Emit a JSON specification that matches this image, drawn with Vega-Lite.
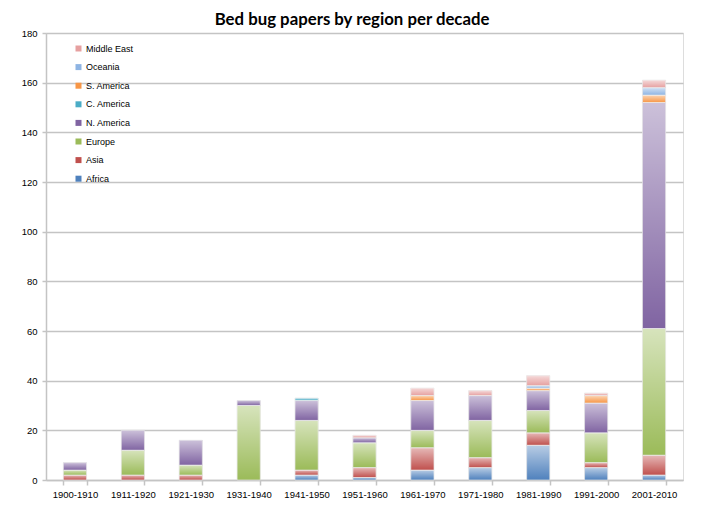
{
  "$schema": "https://vega.github.io/schema/vega-lite/v6.json",
  "width": 637,
  "height": 447,
  "autosize": {"type": "none"},
  "padding": {"left": 46, "top": 33, "right": 19, "bottom": 29},
  "background": "white",
  "title": {"text": "Bed bug papers by region per decade", "font": "Lato", "fontSize": 16.8, "fontWeight": "bold", "color": "black", "anchor": "middle", "frame": "bounds", "offset": -1},
  "datasets": {
    "regions": [
      {"region": "Africa", "rank": 1},
      {"region": "Asia", "rank": 2},
      {"region": "Europe", "rank": 3},
      {"region": "N. America", "rank": 4},
      {"region": "C. America", "rank": 5},
      {"region": "S. America", "rank": 6},
      {"region": "Oceania", "rank": 7},
      {"region": "Middle East", "rank": 8}
    ],
    "papers": [
      {"decade": "1900-1910", "region": "Asia", "papers": 2},
      {"decade": "1900-1910", "region": "Europe", "papers": 2},
      {"decade": "1900-1910", "region": "N. America", "papers": 3},
      {"decade": "1911-1920", "region": "Asia", "papers": 2},
      {"decade": "1911-1920", "region": "Europe", "papers": 10},
      {"decade": "1911-1920", "region": "N. America", "papers": 8},
      {"decade": "1921-1930", "region": "Asia", "papers": 2},
      {"decade": "1921-1930", "region": "Europe", "papers": 4},
      {"decade": "1921-1930", "region": "N. America", "papers": 10},
      {"decade": "1931-1940", "region": "Europe", "papers": 30},
      {"decade": "1931-1940", "region": "N. America", "papers": 2},
      {"decade": "1941-1950", "region": "Africa", "papers": 2},
      {"decade": "1941-1950", "region": "Asia", "papers": 2},
      {"decade": "1941-1950", "region": "Europe", "papers": 20},
      {"decade": "1941-1950", "region": "N. America", "papers": 8},
      {"decade": "1941-1950", "region": "C. America", "papers": 1},
      {"decade": "1951-1960", "region": "Africa", "papers": 1},
      {"decade": "1951-1960", "region": "Asia", "papers": 4},
      {"decade": "1951-1960", "region": "Europe", "papers": 10},
      {"decade": "1951-1960", "region": "N. America", "papers": 2},
      {"decade": "1951-1960", "region": "Middle East", "papers": 1},
      {"decade": "1961-1970", "region": "Africa", "papers": 4},
      {"decade": "1961-1970", "region": "Asia", "papers": 9},
      {"decade": "1961-1970", "region": "Europe", "papers": 7},
      {"decade": "1961-1970", "region": "N. America", "papers": 12},
      {"decade": "1961-1970", "region": "S. America", "papers": 2},
      {"decade": "1961-1970", "region": "Middle East", "papers": 3},
      {"decade": "1971-1980", "region": "Africa", "papers": 5},
      {"decade": "1971-1980", "region": "Asia", "papers": 4},
      {"decade": "1971-1980", "region": "Europe", "papers": 15},
      {"decade": "1971-1980", "region": "N. America", "papers": 10},
      {"decade": "1971-1980", "region": "Middle East", "papers": 2},
      {"decade": "1981-1990", "region": "Africa", "papers": 14},
      {"decade": "1981-1990", "region": "Asia", "papers": 5},
      {"decade": "1981-1990", "region": "Europe", "papers": 9},
      {"decade": "1981-1990", "region": "N. America", "papers": 8},
      {"decade": "1981-1990", "region": "S. America", "papers": 1},
      {"decade": "1981-1990", "region": "Oceania", "papers": 1},
      {"decade": "1981-1990", "region": "Middle East", "papers": 4},
      {"decade": "1991-2000", "region": "Africa", "papers": 5},
      {"decade": "1991-2000", "region": "Asia", "papers": 2},
      {"decade": "1991-2000", "region": "Europe", "papers": 12},
      {"decade": "1991-2000", "region": "N. America", "papers": 12},
      {"decade": "1991-2000", "region": "S. America", "papers": 3},
      {"decade": "1991-2000", "region": "Middle East", "papers": 1},
      {"decade": "2001-2010", "region": "Africa", "papers": 2},
      {"decade": "2001-2010", "region": "Asia", "papers": 8},
      {"decade": "2001-2010", "region": "Europe", "papers": 51},
      {"decade": "2001-2010", "region": "N. America", "papers": 91},
      {"decade": "2001-2010", "region": "S. America", "papers": 3},
      {"decade": "2001-2010", "region": "Oceania", "papers": 3},
      {"decade": "2001-2010", "region": "Middle East", "papers": 3}
    ]
  },
  "data": {"name": "papers"},
  "transform": [
    {"lookup": "region", "from": {"data": {"name": "regions"}, "key": "region", "fields": ["rank"]}},
    {"stack": "papers", "groupby": ["decade"], "sort": [{"field": "rank", "order": "ascending"}], "as": ["y0", "y1"]}
  ],
  "encoding": {
    "x": {
      "field": "decade", "type": "nominal",
      "scale": {"paddingInner": 0.6, "paddingOuter": 0.3},
      "axis": {"title": null, "labelAngle": 0, "tickBand": "extent", "tickSize": 5, "tickColor": "#C4C4C4", "tickWidth": 1.5, "domainColor": "#C4C4C4", "domainWidth": 1.5, "labelFont": "Liberation Sans", "labelFontSize": 9.5, "labelColor": "black", "labelPadding": 4, "grid": false}
    },
    "y": {
      "field": "y0", "type": "quantitative",
      "scale": {"domain": [0, 180]},
      "axis": {"title": null, "values": [0, 20, 40, 60, 80, 100, 120, 140, 160, 180], "grid": true, "gridColor": "#C4C4C4", "gridWidth": 1.5, "domainColor": "#C4C4C4", "domainWidth": 1.5, "tickColor": "#C4C4C4", "tickSize": 4, "tickWidth": 1.5, "labelFont": "Liberation Sans", "labelFontSize": 9.5, "labelColor": "black", "labelPadding": 5}
    },
    "y2": {"field": "y1"}
  },
  "layer": [
    {
      "mark": {"type": "bar", "stroke": "#E4E4E4", "strokeWidth": 0.7},
      "encoding": {
        "color": {
          "field": "region", "type": "nominal",
          "scale": {
            "domain": ["Middle East", "Oceania", "S. America", "C. America", "N. America", "Europe", "Asia", "Africa"],
            "range": ["#E6A0A0", "#8EB4E3", "#F79646", "#4BACC6", "#8064A2", "#9BBB59", "#C0504D", "#4F81BD"]
          },
          "legend": {"orient": "none", "legendX": 28, "legendY": 11, "title": null, "symbolType": "square", "symbolSize": 36, "symbolStrokeWidth": 0, "labelFont": "Liberation Sans", "labelFontSize": 9, "labelColor": "black", "rowPadding": 8.6, "labelOffset": 3, "padding": 0}
        }
      }
    },
    {
      "mark": {
        "type": "bar",
        "fill": {"gradient": "linear", "x1": 0, "y1": 0, "x2": 0, "y2": 1, "stops": [{"offset": 0, "color": "rgba(255,255,255,0.6)"}, {"offset": 1, "color": "rgba(255,255,255,0)"}]}
      }
    }
  ]
}
